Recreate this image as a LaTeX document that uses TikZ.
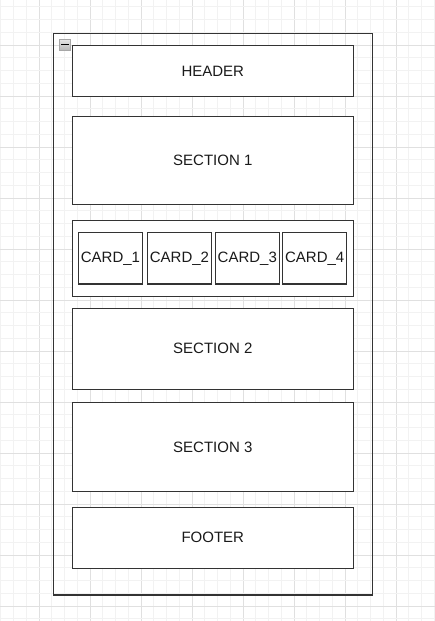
\documentclass[tikz,border=0pt]{standalone}
\usepackage{fontspec}
\setmainfont{Liberation Sans}
\definecolor{gridminor}{HTML}{F2F2F2}
\definecolor{gridmajor}{HTML}{E0E0E0}
\definecolor{edge}{HTML}{333333}
\definecolor{txt}{HTML}{1A1A1A}
\tikzset{
  box/.style={draw=edge, line width=0.95pt, fill=white, inner sep=0pt, text=txt,
              font=\fontsize{11.25pt}{13pt}\selectfont},
  container/.style={draw=edge, line width=1.05pt, inner sep=0pt},
  icon/.style={draw=gray!70, top color=gray!20, bottom color=gray!55, inner sep=0pt},
}
% \rectnode[style]{name}{x1}{y1}{x2}{y2}{text}
\newcommand{\rectnode}[7][box]{%
  \node[#1, minimum width={(#5-#3)*0.75pt}, minimum height={(#6-#4)*0.75pt}]
    (#2) at ({(#3+#5)/2},{(#4+#6)/2}) {#7};}
\begin{document}
\begin{tikzpicture}[x=0.75pt,y=-0.75pt]
\useasboundingbox (0,0) rectangle (435,621);
\fill[white] (0,0) rectangle (435,621);
% grid
\foreach \i in {-3,...,31}{
  \pgfmathtruncatemacro{\m}{mod(\i+40,4)}
  \ifnum\m=0 \def\gc{gridmajor}\else\def\gc{gridminor}\fi
  \draw[\gc, line width=0.6pt] ({39+12.75*\i},0) -- ({39+12.75*\i},621);
}
\foreach \j in {-3,...,45}{
  \pgfmathtruncatemacro{\m}{mod(\j+40,4)}
  \ifnum\m=0 \def\gc{gridmajor}\else\def\gc{gridminor}\fi
  \draw[\gc, line width=0.6pt] (0,{45+12.75*\j}) -- (435,{45+12.75*\j});
}
% outer container
\rectnode[container]{page}{53.5}{33.3}{372.3}{595}{}
% collapse icon
\rectnode[icon]{icon}{59.3}{39.3}{70.7}{50}{}
\draw[black, line width=1.1pt] ([xshift=1.8pt]icon.west) -- ([xshift=-1.8pt]icon.east);
% boxes
\rectnode{header}{72.3}{45.3}{353.3}{96.7}{HEADER}
\rectnode{s1}{72.3}{116.3}{353.3}{204.3}{SECTION 1}
\rectnode{cards}{72.3}{220.3}{353.3}{296.7}{}
\rectnode{c1}{78.3}{232.7}{142.7}{284}{CARD\_1}
\rectnode{c2}{147.3}{232.7}{211.7}{284}{CARD\_2}
\rectnode{c3}{215.3}{232.7}{279.3}{284}{CARD\_3}
\rectnode{c4}{282.7}{232.7}{346.7}{284}{CARD\_4}
\rectnode{s2}{72.3}{308.3}{353.3}{389.3}{SECTION 2}
\rectnode{s3}{72.3}{402.3}{353.3}{491.7}{SECTION 3}
\rectnode{footer}{72.3}{507.3}{353.3}{568.3}{FOOTER}
\end{tikzpicture}
\end{document}
